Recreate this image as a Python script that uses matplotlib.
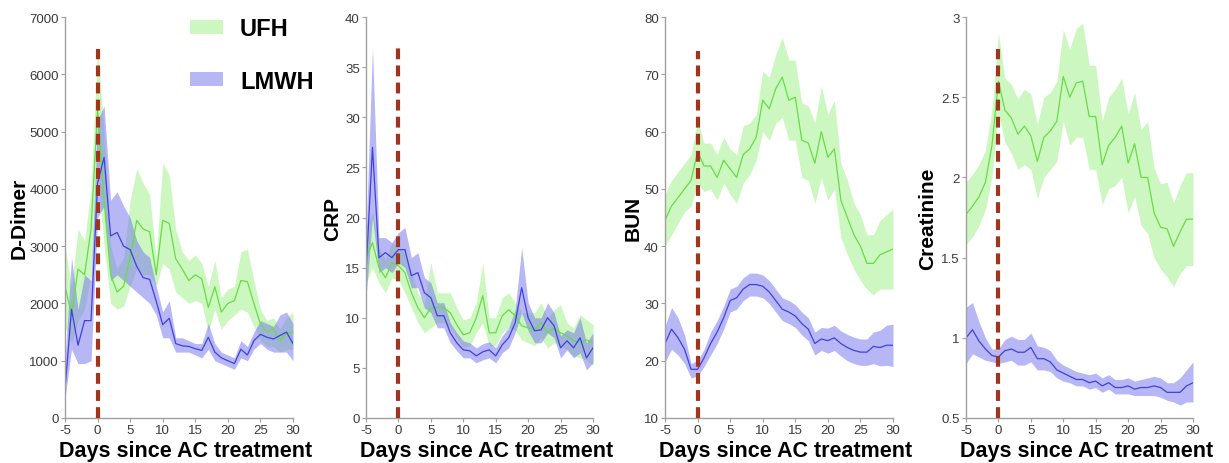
import numpy as np
import matplotlib

matplotlib.use('Agg')
import matplotlib.pyplot as plt
from matplotlib.patches import Patch

plt.rcParams['font.family'] = ['Liberation Sans', 'DejaVu Sans']
plt.rcParams['axes.unicode_minus'] = False

days = list(range(-5, 31))

# D-Dimer
ddimer_ufh = [2300, 1800, 2600, 2500, 3300, 5400, 3800, 2500, 2200, 2300, 2800, 3450, 3300, 3250, 2500, 3450,
              3400, 2780, 2600, 2400, 2500, 2430, 1930, 2290, 1850, 2000, 2050, 2400, 2380, 2000, 1640, 1500,
              1560, 1350, 1480, 1500]
ddimer_ufh_lo = [1600, 1300, 1700, 1900, 2500, 4300, 3000, 2000, 1900, 1950, 2300, 2600, 2500, 2500, 2300, 2700,
                 2600, 2200, 2100, 2000, 2050, 2000, 1500, 1900, 1550, 1700, 1800, 1900, 1850, 1600, 1350, 1250,
                 1250, 1150, 1200, 1200]
ddimer_ufh_hi = [3000, 2300, 3300, 3100, 4000, 6500, 5000, 3000, 2600, 2800, 3800, 4350, 4100, 3900, 2800, 4450,
                 4250, 3300, 2900, 2750, 2850, 2700, 2300, 2750, 2100, 2250, 2300, 2900, 2950, 2400, 1900, 1700,
                 1750, 1550, 1750, 1850]
ddimer_lmwh = [500, 1900, 1270, 1700, 1700, 4100, 4550, 3180, 3240, 3000, 2940, 2650, 2450, 2420, 2040, 1630,
               1740, 1300, 1260, 1250, 1210, 1180, 1410, 1150, 1050, 1000, 950, 1200, 1100, 1350, 1460, 1410,
               1380, 1440, 1500, 1300]
ddimer_lmwh_lo = [350, 1200, 950, 950, 1000, 3500, 3700, 2400, 2500, 2400, 2300, 2200, 2100, 2000, 1800, 1400,
                  1400, 1150, 1150, 1150, 1100, 1050, 1200, 1000, 950, 900, 850, 1050, 1000, 1200, 1300, 1200,
                  1150, 1150, 1150, 1000]
ddimer_lmwh_hi = [1000, 2800, 1900, 2500, 2400, 5200, 5450, 3800, 3950, 3700, 3500, 3100, 2900, 2800, 2300, 1850,
                  2050, 1400, 1400, 1350, 1300, 1300, 1650, 1300, 1150, 1100, 1050, 1350, 1250, 1500, 1700, 1650,
                  1600, 1800, 1850, 1650]

# CRP
crp_ufh = [16, 17.5, 15, 14, 15.5, 15.2, 14.5, 12.5, 11, 10, 11, 11, 11, 10.5, 9.3, 8.3, 8.5, 10, 12.2, 8.5,
           8.5, 10.2, 10.8, 10.2, 9.2, 9, 8.8, 9.5, 8.5, 9, 8.5, 8.2, 7.7, 7.5, 7.8, 7.5]
crp_ufh_lo = [13.5, 15, 13.5, 12.5, 14, 13.8, 12.5, 11, 9.5, 8.5, 9, 9.5, 9.5, 9, 8, 7, 7.2, 8.5, 9.5, 7.2,
              7.2, 8.5, 9, 8.8, 7.8, 7.5, 7.2, 8, 7, 7.5, 7.2, 6.8, 6.2, 6, 5.8, 5.2]
crp_ufh_hi = [19, 20.5, 17, 15.8, 17.5, 17, 16.5, 14.5, 12.5, 11.5, 15.5, 12.5, 12.5, 12.5, 11, 9.8, 10, 11.5,
              15.5, 10, 10, 12, 12.5, 11.5, 10.5, 10.5, 10.5, 11.5, 10, 10.8, 11.3, 9.5, 9, 10.3, 9.8, 9.3]
crp_lmwh = [14.5, 27, 16, 16.5, 16, 16.8, 16.8, 14.2, 14.5, 12.5, 12, 10.2, 10.2, 8.5, 7.5, 6.8, 6.7, 6.2, 6.6,
            6.8, 6.2, 7.3, 8, 9.5, 13, 10, 8.7, 8.8, 10, 9.2, 7, 7.7, 7, 8, 6, 7]
crp_lmwh_lo = [12, 20, 14.5, 15, 14.5, 15.5, 15, 13, 13, 11, 10.5, 9, 9, 7.5, 6.7, 6, 6, 5.5, 5.8, 6, 5.5, 6.5,
               7, 8.5, 10.5, 8.7, 7.5, 7.5, 8.5, 8, 6, 6.8, 6, 6.5, 4.8, 5.5]
crp_lmwh_hi = [18, 37, 18, 18, 17.5, 18.5, 19, 16, 16.5, 14, 13.5, 11.5, 11.5, 9.5, 8.5, 7.7, 7.5, 7, 7.4, 7.6,
               7, 8.2, 9, 10.8, 17, 11.5, 10, 10, 11.5, 10.5, 8.2, 8.8, 8.5, 10, 7.5, 8.5]

# BUN
bun_ufh = [44.5, 47, 48.5, 50, 51.5, 56.5, 54, 54, 52, 55, 53.5, 52, 56, 57, 59, 65.5, 64, 67.5, 69.5, 65.5,
           66, 58.5, 58, 54.5, 60, 55.5, 57, 48, 45, 42, 40, 37, 37, 38.5, 39, 39.5]
bun_ufh_lo = [40, 42, 44, 46, 47, 51, 49.5, 50, 48, 51, 49, 47.5, 51, 52.5, 55, 60, 58.5, 61.5, 62.5, 58.5,
              58.5, 52, 51.5, 47.5, 52, 48, 50, 41.5, 38.5, 36, 34, 32.5, 31.5, 32.5, 32.5, 32.5]
bun_ufh_hi = [49, 51.5, 53, 54.5, 56, 62, 58, 58, 56, 59, 57, 56, 61, 61.5, 63, 70.5, 69.5, 73.5, 76.5, 72.5,
              72.5, 65, 64.5, 61.5, 68, 63, 65.5, 54.5, 51.5, 47.5, 45.5, 42, 42, 44.5, 45.5, 46.5]
bun_lmwh = [23, 25.5, 24, 22, 18.5, 18.5, 20.5, 23, 25, 27.5, 30.5, 31, 32.5, 33.3, 33.3, 33, 32, 30.5, 29,
            28.5, 27.8, 26.5, 25.5, 23, 23.8, 23.5, 24, 23, 22.3, 21.8, 21.5, 21.5, 22.5, 22.3, 22.7, 22.7]
bun_lmwh_lo = [19.8, 22, 21, 19.5, 17, 17.3, 19, 21, 23, 25.5, 28.5, 29, 30.5, 31.3, 31.3, 31, 30, 28.5, 27,
               26.5, 25.8, 24.5, 23.5, 21, 21.8, 21.3, 21.8, 20.8, 20, 19.5, 19.2, 19.2, 19.5, 19.1, 19.2, 19]
bun_lmwh_hi = [26, 29.3, 27.5, 24.5, 19.5, 20, 22, 25, 27, 29.5, 32.5, 33, 34.5, 35.3, 35.3, 35, 34, 32.5, 31,
               30.5, 29.8, 28.5, 27.5, 25, 25.8, 25.7, 26.2, 25.2, 24.6, 24.1, 23.8, 23.8, 25, 25.3, 26.2, 26.4]

# Creatinine
creat_ufh = [1.77, 1.82, 1.88, 1.97, 2.2, 2.6, 2.42, 2.37, 2.27, 2.32, 2.26, 2.1, 2.25, 2.29, 2.35, 2.63, 2.5,
             2.59, 2.6, 2.38, 2.38, 2.08, 2.2, 2.25, 2.32, 2.09, 2.21, 2.0, 2.0, 1.78, 1.69, 1.68, 1.57, 1.66,
             1.74, 1.74]
creat_ufh_lo = [1.58, 1.63, 1.7, 1.8, 2.0, 2.4, 2.22, 2.15, 2.05, 2.08, 2.05, 1.87, 2.0, 2.05, 2.1, 2.35, 2.2,
                2.25, 2.25, 2.05, 2.05, 1.83, 1.93, 1.95, 2.0, 1.78, 1.88, 1.7, 1.65, 1.5, 1.43, 1.38, 1.32, 1.4,
                1.45, 1.45]
creat_ufh_hi = [1.97, 2.02, 2.08, 2.17, 2.42, 2.9, 2.62, 2.58, 2.49, 2.55, 2.52, 2.33, 2.5, 2.53, 2.6, 2.92,
                2.8, 2.93, 2.96, 2.7, 2.7, 2.35, 2.5, 2.55, 2.62, 2.4, 2.53, 2.3, 2.35, 2.06, 1.96, 1.97, 1.84,
                1.95, 2.03, 2.03]
creat_lmwh = [1.0, 1.05, 0.98, 0.93, 0.89, 0.88, 0.92, 0.93, 0.91, 0.91, 0.94, 0.87, 0.87, 0.85, 0.8, 0.78,
              0.76, 0.74, 0.74, 0.72, 0.73, 0.7, 0.72, 0.69, 0.69, 0.7, 0.68, 0.69, 0.69, 0.7, 0.69, 0.66, 0.66,
              0.66, 0.7, 0.72]
creat_lmwh_lo = [0.84, 0.9, 0.88, 0.86, 0.85, 0.84, 0.85, 0.86, 0.83, 0.83, 0.85, 0.8, 0.8, 0.79, 0.75, 0.73,
                 0.72, 0.7, 0.7, 0.68, 0.69, 0.66, 0.68, 0.65, 0.65, 0.65, 0.64, 0.64, 0.64, 0.64, 0.63, 0.61,
                 0.6, 0.58, 0.6, 0.6]
creat_lmwh_hi = [1.19, 1.22, 1.1, 1.0, 0.93, 0.93, 0.99, 1.01, 0.99, 0.99, 1.03, 0.95, 0.94, 0.92, 0.86, 0.83,
                 0.81, 0.79, 0.78, 0.77, 0.78, 0.75, 0.77, 0.74, 0.74, 0.75, 0.73, 0.74, 0.75, 0.76, 0.75, 0.72,
                 0.72, 0.75, 0.8, 0.85]

ylabels = ['D-Dimer', 'CRP', 'BUN', 'Creatinine']
y_limits = [(0, 7000), (0, 40), (10, 80), (0.5, 3)]
y_ticks = [np.arange(0, 7001, 1000), np.arange(0, 41, 5), np.arange(10, 81, 10), [0.5, 1, 1.5, 2, 2.5, 3]]
y_ticklabels = [None, None, None, ['0.5', '1', '1.5', '2', '2.5', '3']]
vline_top = [6450, 37, 74, 2.8]
x_ticks = [-5, 0, 5, 10, 15, 20, 25, 30]

ufh_data = [(ddimer_ufh, ddimer_ufh_lo, ddimer_ufh_hi), (crp_ufh, crp_ufh_lo, crp_ufh_hi),
            (bun_ufh, bun_ufh_lo, bun_ufh_hi), (creat_ufh, creat_ufh_lo, creat_ufh_hi)]
lmwh_data = [(ddimer_lmwh, ddimer_lmwh_lo, ddimer_lmwh_hi), (crp_lmwh, crp_lmwh_lo, crp_lmwh_hi),
             (bun_lmwh, bun_lmwh_lo, bun_lmwh_hi), (creat_lmwh, creat_lmwh_lo, creat_lmwh_hi)]

GREEN_LINE = '#66dd44'
GREEN_FILL = '#8aee6a'
BLUE_LINE = '#4040e0'
BLUE_FILL = '#7070ee'
VLINE = '#a0341c'
AXIS_GRAY = '#a0a0a0'

# axes boxes in figure fractions (left, bottom, width, height)
boxes = [(0.0529, 0.097, 0.1855, 0.864), (0.2978, 0.097, 0.1847, 0.864),
         (0.5411, 0.097, 0.1855, 0.864), (0.786, 0.097, 0.1847, 0.864)]
ylabel_x = [-0.16, -0.105, -0.10, -0.128]

fig = plt.figure(figsize=(12.29, 4.64), dpi=100)

for i in range(4):
    ax = fig.add_axes(boxes[i])
    for (mean, lo, hi), line_c, fill_c, alpha in [(ufh_data[i], GREEN_LINE, GREEN_FILL, 0.42),
                                                  (lmwh_data[i], BLUE_LINE, BLUE_FILL, 0.5)]:
        ax.fill_between(days, lo, hi, color=fill_c, alpha=alpha, linewidth=0)
        ax.plot(days, mean, color=line_c, linewidth=0.9)

    ax.plot([0, 0], [y_limits[i][0], vline_top[i]], color=VLINE, linewidth=3,
            dashes=(2.6, 1.5), zorder=5)

    ax.set_xlim(-5, 30)
    ax.set_ylim(*y_limits[i])
    ax.set_xticks(x_ticks)
    ax.set_yticks(y_ticks[i])
    if y_ticklabels[i] is not None:
        ax.set_yticklabels(y_ticklabels[i])

    for side in ['top', 'right']:
        ax.spines[side].set_visible(False)
    for side in ['left', 'bottom']:
        ax.spines[side].set_color(AXIS_GRAY)
        ax.spines[side].set_linewidth(1.0)
    ax.tick_params(direction='out', length=3, width=0.8, color=AXIS_GRAY,
                   labelcolor='#3a3a3a', labelsize=9.5, pad=1.5)

    ax.set_xlabel('Days since AC treatment', fontsize=15.5, fontweight='bold')
    ax.xaxis.set_label_coords(0.53, -0.055)
    ax.set_ylabel(ylabels[i], fontsize=15, fontweight='bold')
    ax.yaxis.set_label_coords(ylabel_x[i], 0.5)

    if i == 0:
        handles = [Patch(facecolor=GREEN_FILL, alpha=0.42, edgecolor='none', label='UFH'),
                   Patch(facecolor=BLUE_FILL, alpha=0.5, edgecolor='none', label='LMWH')]
        ax.legend(handles=handles, loc='upper left', bbox_to_anchor=(0.55, 1.0), frameon=False,
                  prop={'size': 17, 'weight': 'bold'}, handlelength=1.4, handleheight=0.55,
                  handletextpad=0.7, labelspacing=1.25, borderpad=0, borderaxespad=0)

plt.savefig('out.png', dpi=100)
plt.close()
